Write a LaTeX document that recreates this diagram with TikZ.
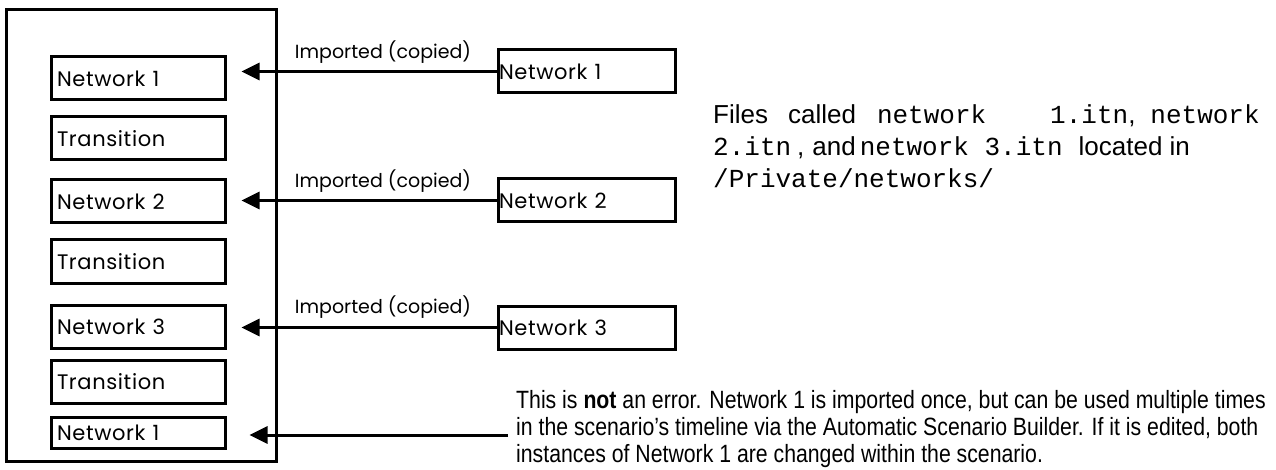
\documentclass[tikz,border=0pt]{standalone}
\usepackage{fontspec}
\setmainfont{Poppins}
\newfontfamily\boxfont[LetterSpace=3]{Poppins}
\newfontfamily\notefont[FakeStretch=0.85]{Liberation Sans}
\newfontfamily\grot{Liberation Sans}
\newfontfamily\mono{Liberation Mono}
\usetikzlibrary{arrows.meta}
\begin{document}
\begin{tikzpicture}[x=1pt,y=-1pt,
  lbox/.style={draw,line width=3pt,text width=162pt,inner xsep=6pt,inner ysep=0pt,minimum height=43pt,align=left,font=\boxfont\fontsize{21}{24}\selectfont},
  rbox/.style={draw,line width=3pt,text width=175pt,inner xsep=1pt,inner ysep=0pt,minimum height=43pt,align=left,font=\boxfont\fontsize{21}{24}\selectfont},
  lbl/.style={font=\fontsize{19}{22}\selectfont,inner sep=0pt},
  rtxt/.style={anchor=base west,inner sep=0pt,font=\grot\fontsize{26}{28}\selectfont},
  ntxt/.style={anchor=base west,inner sep=0pt,font=\notefont\fontsize{25}{27}\selectfont},
  conn/.style={line width=3pt,-{Triangle[length=18pt,width=17pt]}}]
\useasboundingbox (0,0) rectangle (1276,470);
\node[draw,line width=3pt,minimum width=269.5pt,minimum height=451pt,inner sep=0pt] (outer) at (141.5,235.5) {};
% left column
\node[lbox] (l1) at (138,78.5) {Network 1};
\node[lbox] (l2) at (138,138.5) {Transition};
\node[lbox] (l3) at (138,201.5) {Network 2};
\node[lbox] (l4) at (138,261.5) {Transition};
\node[lbox] (l5) at (138,326.5) {Network 3};
\node[lbox] (l6) at (138,381.5) {Transition};
\node[lbox,minimum height=31pt] (l7) at (138,432.5) {Network 1};
% right boxes
\node[rbox] (r1) at (586.5,71.5) {Network 1};
\node[rbox] (r2) at (586.5,200.5) {Network 2};
\node[rbox] (r3) at (586.5,327.5) {Network 3};
% labels
\node[lbl] (i1) at (383,52) {Imported (copied)};
\node[lbl] (i2) at (383,181) {Imported (copied)};
\node[lbl] (i3) at (383,307) {Imported (copied)};
% connectors
\draw[conn,shorten >=15pt] (r1.west) -- (r1.west -| l1.east);
\draw[conn,shorten >=15pt] (r2.west) -- (r2.west -| l3.east);
\draw[conn,shorten >=15pt] (r3.west) -- (r3.west -| l5.east);
\coordinate (e) at (508,435);
\draw[conn,shorten >=23pt] (e) -- (e -| l7.east);
% right text
\node[rtxt] (f1) at (713,124) {Files\hspace{20pt}called\hspace{21pt}{\mono network}\hspace{64pt}{\mono 1.itn},\hspace{15pt}{\mono network}};
\node[rtxt] (f2) at (713,156) {{\mono 2.itn}\hspace{6pt},\hspace{8pt}and\hspace{4pt}{\mono network 3.itn}\hspace{16pt}located in};
\node[rtxt] (f3) at (713,188) {{\mono /Private/networks/}};
% note
\node[ntxt] (n1) at (516,408) {This is \textbf{not} an error. Network 1 is imported once, but can be used multiple times};
\node[ntxt] (n2) at (516,435) {in the scenario’s timeline via the Automatic Scenario Builder. If it is edited, both};
\node[ntxt] (n3) at (516,462) {instances of Network 1 are changed within the scenario.};
\end{tikzpicture}
\end{document}
